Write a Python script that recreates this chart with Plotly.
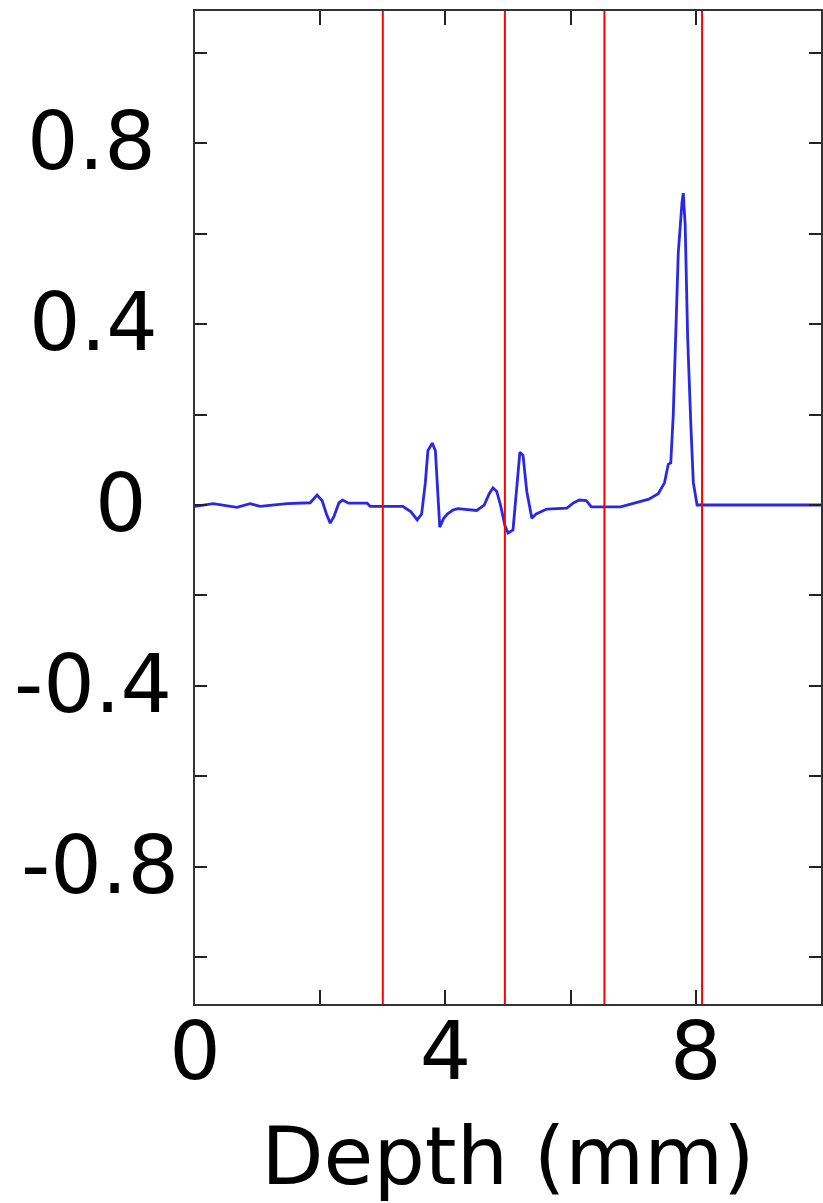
import plotly.graph_objects as go

# Blue signal (depth in mm, amplitude)
depth = [0.0, 0.29, 0.67, 0.88, 1.04, 1.47, 1.84, 1.95, 2.03, 2.10, 2.16, 2.22, 2.30, 2.36, 2.45,
         2.75, 2.80, 3.32, 3.45, 3.55, 3.62, 3.68, 3.72, 3.79, 3.84, 3.87, 3.91, 3.97, 4.03, 4.12,
         4.20, 4.50, 4.62, 4.70, 4.76, 4.82, 4.88, 4.95, 5.00, 5.08, 5.14, 5.19, 5.24, 5.30, 5.38,
         5.45, 5.62, 5.94, 6.05, 6.14, 6.25, 6.33, 6.80, 7.06, 7.25, 7.40, 7.50, 7.56, 7.60, 7.64,
         7.67, 7.72, 7.78, 7.80, 7.83, 7.87, 7.92, 7.96, 8.02, 10.0]
signal = [-0.003, 0.003, -0.005, 0.003, -0.003, 0.003, 0.005, 0.022, 0.010, -0.020, -0.040, -0.025, 0.005, 0.011, 0.004,
          0.004, -0.003, -0.003, -0.015, -0.033, -0.020, 0.050, 0.120, 0.137, 0.120, 0.040, -0.049, -0.030, -0.020, -0.011,
          -0.008, -0.012, 0.000, 0.025, 0.038, 0.030, 0.000, -0.045, -0.062, -0.055, 0.050, 0.117, 0.110, 0.030, -0.029,
          -0.020, -0.009, -0.007, 0.005, 0.011, 0.010, -0.004, -0.004, 0.006, 0.013, 0.025, 0.049, 0.090, 0.093, 0.200,
          0.336, 0.558, 0.670, 0.690, 0.620, 0.370, 0.180, 0.050, 0.000, 0.000]

# Red boundary lines (mm)
boundaries = [3.00, 4.95, 6.54, 8.10]

x_tickvals = [0, 2, 4, 6, 8, 10]
x_ticktext = ["0", "", "4", "", "8", ""]
y_tickvals = [-1.0, -0.8, -0.6, -0.4, -0.2, 0.0, 0.2, 0.4, 0.6, 0.8, 1.0]
y_labelvals = [-0.8, -0.4, 0.0, 0.4, 0.8]
y_labeltext = ["-0.8", "-0.4", "0", "0.4", "0.8"]

# styling: horizontal centre (px from left of page) of each y label, as in the reference
y_label_center_px = [100, 93, 121, 93.5, 91.5]

W, H = 823, 1203
ML, MR, MT, MB = 195, 2, 11, 199
PLOT_W = W - ML - MR
FONT = "DejaVu Sans"
FS = 81

fig = go.Figure()
fig.add_trace(go.Scatter(x=depth, y=signal, mode="lines",
                         line=dict(color="rgb(40,40,230)", width=2.8),
                         showlegend=False, hoverinfo="skip"))
for b in boundaries:
    fig.add_shape(type="line", xref="x", yref="paper", x0=b, x1=b, y0=0, y1=1,
                  line=dict(color="#ff0000", width=2))

for v, t, cx in zip(y_labelvals, y_labeltext, y_label_center_px):
    fig.add_annotation(x=(cx - ML) / PLOT_W, xref="paper", y=v, yref="y",
                       text=t, showarrow=False, xanchor="center", yanchor="middle",
                       yshift=2, font=dict(family=FONT, size=FS, color="black"))

fig.update_layout(
    width=W, height=H,
    margin=dict(l=ML, r=MR, t=MT, b=MB),
    paper_bgcolor="white", plot_bgcolor="white",
    font=dict(family=FONT, size=FS, color="black"),
    showlegend=False,
)
fig.update_xaxes(range=[0, 10], tickvals=x_tickvals, ticktext=x_ticktext,
                 ticks="inside", ticklen=14, tickwidth=2, tickcolor="#222",
                 showline=True, linecolor="#333", linewidth=2, mirror="ticks",
                 showgrid=False, zeroline=False, automargin=False,
                 ticklabelstandoff=-24,
                 title=dict(text="Depth (mm)", font=dict(size=FS, family=FONT), standoff=57),
                 tickfont=dict(size=FS, family=FONT))
fig.update_yaxes(range=[-1.104, 1.093], tickvals=y_tickvals, showticklabels=False,
                 ticks="inside", ticklen=12, tickwidth=2, tickcolor="#222",
                 showline=True, linecolor="#333", linewidth=2, mirror="ticks",
                 showgrid=False, zeroline=False, automargin=False)

fig.write_html("out.html", config={"displayModeBar": False},
               post_script="document.body.style.margin='0';document.body.style.overflow='hidden';")
